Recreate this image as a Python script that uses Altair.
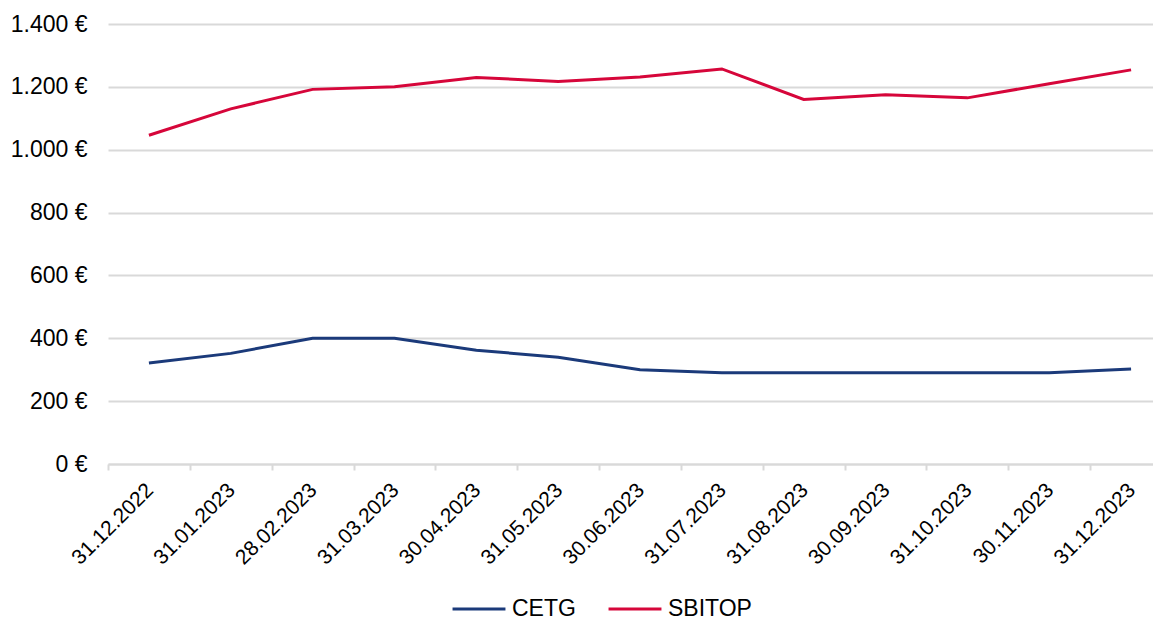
import altair as alt
import pandas as pd

dates = ["31.12.2022", "31.01.2023", "28.02.2023", "31.03.2023", "30.04.2023",
         "31.05.2023", "30.06.2023", "31.07.2023", "31.08.2023", "30.09.2023",
         "31.10.2023", "30.11.2023", "31.12.2023"]
cetg = [321, 352, 400, 400, 362, 340, 300, 290, 290, 290, 290, 290, 302]
sbitop = [1046, 1130, 1192, 1200, 1230, 1217, 1231, 1257, 1160, 1175, 1165, 1210, 1254]
series = ["CETG", "SBITOP"]
colors = ["#1b3a7a", "#d6063a"]

rows = []
for i, d in enumerate(dates):
    rows.append({"date": d, "series": "CETG", "value": cetg[i], "order": i})
    rows.append({"date": d, "series": "SBITOP", "value": sbitop[i], "order": i})
df = pd.DataFrame(rows)

FONT = "Liberation Sans"

chart = alt.Chart(df).mark_line(strokeWidth=3).encode(
    x=alt.X("date:N", sort=dates, bandPosition=0.5,
            scale=alt.Scale(type="band", paddingInner=0, paddingOuter=0, range=[0, 1064]),
            axis=alt.Axis(title=None, labelAngle=-45, labelFontSize=21, labelColor="#000000",
                          labelFont=FONT, domainColor="#d9d9d9", domainWidth=2,
                          tickColor="#d9d9d9", tickWidth=2, tickSize=6, tickBand="extent",
                          labelPadding=9, labelOffset=-7, grid=False)),
    y=alt.Y("value:Q", scale=alt.Scale(domain=[0, 1400], nice=False),
            axis=alt.Axis(title=None, values=[0, 200, 400, 600, 800, 1000, 1200, 1400],
                          labelExpr="replace(format(datum.value, ',.0f'), ',', '.') + ' €'",
                          labelFontSize=23, labelColor="#000000", labelFont=FONT,
                          labelPadding=21, domain=False, ticks=False,
                          gridColor="#d9d9d9", gridWidth=2)),
    color=alt.Color("series:N", sort=series,
                    scale=alt.Scale(domain=series, range=colors),
                    legend=alt.Legend(title=None, orient="none", legendX=343, legendY=557,
                                      direction="horizontal", symbolType="stroke",
                                      symbolStrokeWidth=3, symbolSize=2800,
                                      labelFontSize=23, labelFont=FONT, labelColor="#000000",
                                      labelOffset=5, columnPadding=26)),
    order="order:Q",
).properties(
    width=1045, height=440,
    autosize=alt.AutoSizeParams(type="none"),
    padding={"left": 100, "top": 16, "right": 0, "bottom": 162},
).configure_view(stroke=None)

chart.save("out.html", embed_options={"renderer": "svg", "actions": False})
